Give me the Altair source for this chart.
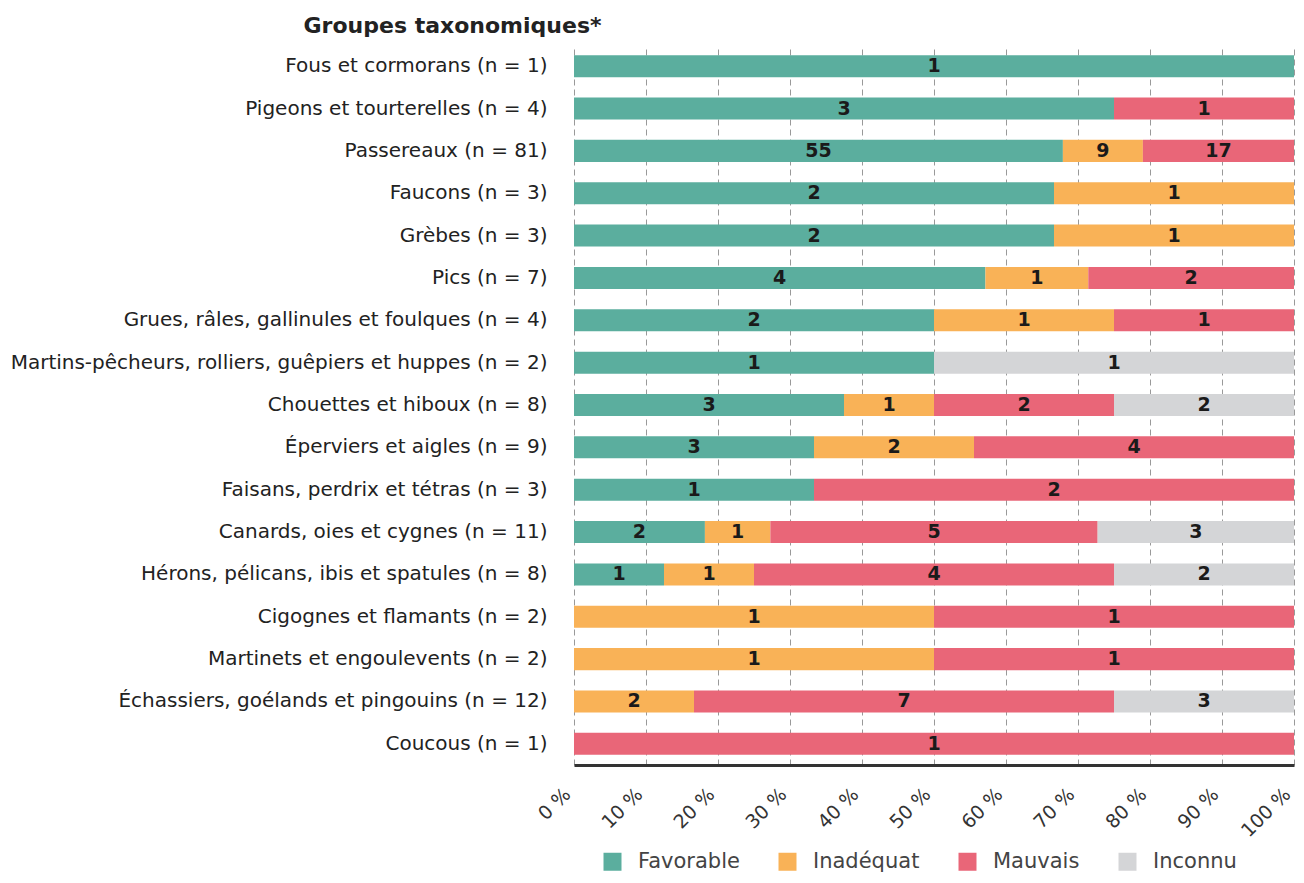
import altair as alt
import pandas as pd

groups = [
    "Fous et cormorans (n = 1)",
    "Pigeons et tourterelles (n = 4)",
    "Passereaux (n = 81)",
    "Faucons (n = 3)",
    "Grèbes (n = 3)",
    "Pics (n = 7)",
    "Grues, râles, gallinules et foulques (n = 4)",
    "Martins-pêcheurs, rolliers, guêpiers et huppes (n = 2)",
    "Chouettes et hiboux (n = 8)",
    "Éperviers et aigles (n = 9)",
    "Faisans, perdrix et tétras (n = 3)",
    "Canards, oies et cygnes (n = 11)",
    "Hérons, pélicans, ibis et spatules (n = 8)",
    "Cigognes et flamants (n = 2)",
    "Martinets et engoulevents (n = 2)",
    "Échassiers, goélands et pingouins (n = 12)",
    "Coucous (n = 1)",
]
statuses = ["Favorable", "Inadéquat", "Mauvais", "Inconnu"]
colors = ["#5bae9e", "#f9b257", "#e96678", "#d4d5d7"]
favorable = [1, 3, 55, 2, 2, 4, 2, 1, 3, 3, 1, 2, 1, 0, 0, 0, 0]
inadequat = [0, 0, 9, 1, 1, 1, 1, 0, 1, 2, 0, 1, 1, 1, 1, 2, 0]
mauvais = [0, 1, 17, 0, 0, 2, 1, 0, 2, 4, 2, 5, 4, 1, 1, 7, 1]
inconnu = [0, 0, 0, 0, 0, 0, 0, 1, 2, 0, 0, 3, 2, 0, 0, 3, 0]
x_ticks = [0, 0.1, 0.2, 0.3, 0.4, 0.5, 0.6, 0.7, 0.8, 0.9, 1.0]

rows = []
for i, g in enumerate(groups):
    for j, (s, vals) in enumerate(zip(statuses, [favorable, inadequat, mauvais, inconnu])):
        rows.append({"group": g, "status": s, "order": j, "count": vals[i]})
df = pd.DataFrame(rows)

FONT = "DejaVu Sans"

base = (
    alt.Chart(df)
    .transform_joinaggregate(total="sum(count)", groupby=["group"])
    .transform_calculate(pct="datum.count / datum.total")
    .transform_stack(stack="pct", groupby=["group"], sort=[alt.SortField("order")], as_=["x0", "x1"])
    .transform_calculate(mid="(datum.x0 + datum.x1) / 2")
)

y_enc = alt.Y(
    "group:N",
    sort=groups,
    scale=alt.Scale(paddingInner=0.48, paddingOuter=0.24),
    axis=alt.Axis(
        title="Groupes taxonomiques*",
        titleAngle=0,
        titleAlign="right",
        titleBaseline="alphabetic",
        titleX=27,
        titleY=-13,
        titleFontSize=22,
        titleFontWeight="bold",
        titleColor="#222",
        titleFont=FONT,
        labelFont=FONT,
        labelFontSize=20,
        labelColor="#222",
        labelPadding=27,
        ticks=False,
        domain=False,
        grid=False,
        labelLimit=1000,
    ),
)

x_scale = alt.Scale(domain=[0, 1], nice=False)
x_axis = alt.Axis(
    title=None,
    values=x_ticks,
    labelExpr="format(datum.value * 100, 'd') + ' %'",
    labelAngle=-45,
    labelAlign="right",
    labelBaseline="bottom",
    labelFont=FONT,
    labelFontSize=19,
    labelColor="#333",
    labelPadding=33,
    grid=True,
    gridDash=[6, 4],
    gridColor="#999",
    gridWidth=1,
    domainColor="#333",
    domainWidth=3,
    ticks=False,
)

bars = base.mark_bar().encode(
    y=y_enc,
    x=alt.X("x0:Q", scale=x_scale, axis=x_axis),
    x2="x1:Q",
    color=alt.Color(
        "status:N",
        scale=alt.Scale(domain=statuses, range=colors),
        legend=alt.Legend(
            title=None,
            orient="none",
            direction="horizontal",
            legendX=28,
            legendY=806,
            symbolType="square",
            symbolSize=324,
            symbolStrokeWidth=0,
            labelFont=FONT,
            labelFontSize=21,
            labelColor="#444",
            labelOffset=15,
            columnPadding=37,
        ),
    ),
)

text = base.transform_filter("datum.count > 0").mark_text(
    font=FONT, fontSize=19, fontWeight="bold", color="#1a1a1a"
).encode(
    y=alt.Y("group:N", sort=groups),
    x=alt.X("mid:Q", scale=x_scale),
    text="count:Q",
)

chart = (
    alt.layer(bars, text)
    .properties(width=720, height=720, padding={"left": 2, "top": 6, "right": 2, "bottom": 0})
    .configure_view(stroke=None)
)

chart.save("out.html", embed_options={"renderer": "svg", "actions": False})
